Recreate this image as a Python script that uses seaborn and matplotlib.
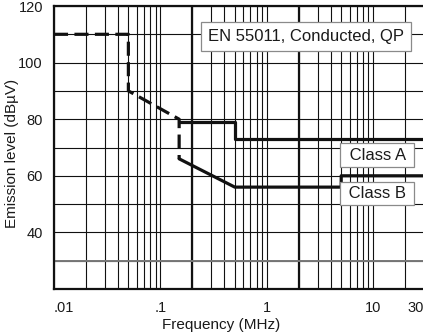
import matplotlib
matplotlib.use("Agg")
import matplotlib.pyplot as plt
import seaborn as sns
import pandas as pd
import numpy as np
from matplotlib.ticker import LogLocator, FixedLocator, NullFormatter

# ---- data ----
dashed_freq = [0.01, 0.05, 0.05, 0.15, 0.15]
dashed_level = [110, 110, 90, 80, 66]
classA_freq = [0.15, 0.5, 0.5, 30]
classA_level = [79, 79, 73, 73]
classB_freq = [0.15, 0.5, 5, 5, 30]
classB_level = [66, 56, 56, 60, 60]

x_ticks = [0.01, 0.1, 1, 10, 30]
x_ticklabels = [".01", ".1", "1", "10", "30"]
y_ticks = [40, 60, 80, 100, 120]
y_minor = [20, 30, 50, 70, 90, 110]

title_text = "EN 55011, Conducted, QP"
label_A = "Class A"
label_B = "Class B"

sns.set_theme(style="white")
plt.rcParams['font.family'] = ['Liberation Sans', 'DejaVu Sans']

W, H = 423, 335
fig = plt.figure(figsize=(W / 100, H / 100), dpi=100)
ax_l, ax_r, ax_t, ax_b = 54, 424, 6, 289
ax = fig.add_axes([ax_l / W, 1 - ax_b / H, (ax_r - ax_l) / W, (ax_b - ax_t) / H])

ax.set_xscale("log")
ax.set_xlim(0.01, 30)
ax.set_ylim(20, 120)

# grid
ax.xaxis.set_major_locator(FixedLocator(x_ticks))
ax.set_xticklabels(x_ticklabels)
ax.xaxis.set_minor_locator(LogLocator(base=10, subs=np.arange(2, 10)))
ax.xaxis.set_minor_formatter(NullFormatter())
ax.yaxis.set_major_locator(FixedLocator(y_ticks))
ax.yaxis.set_minor_locator(FixedLocator(y_minor))
ax.grid(True, which="both", color="#111111", lw=0.8)
ax.axvline(0.2, color="#111111", lw=1.6, zorder=1)
ax.axvline(2, color="#111111", lw=1.6, zorder=1)
ax.axhline(30, color="#777777", lw=1.4, zorder=1)
ax.set_axisbelow(True)

lw = 2.3
df_d = pd.DataFrame({"f": dashed_freq, "v": dashed_level})
df_a = pd.DataFrame({"f": classA_freq, "v": classA_level})
df_b = pd.DataFrame({"f": classB_freq, "v": classB_level})
sns.lineplot(data=df_d, x="f", y="v", ax=ax, sort=False, estimator=None,
             color="#111111", lw=lw, zorder=3)
ax.lines[-1].set_dashes([4.4, 2.0])
sns.lineplot(data=df_a, x="f", y="v", ax=ax, sort=False, estimator=None,
             color="#111111", lw=lw, zorder=3)
sns.lineplot(data=df_b, x="f", y="v", ax=ax, sort=False, estimator=None,
             color="#111111", lw=lw, zorder=3)

for s in ["left", "bottom", "top", "right"]:
    ax.spines[s].set_visible(True)
    ax.spines[s].set_color("#111111")
    ax.spines[s].set_linewidth(1.6)

ax.tick_params(axis="both", which="both", length=0, labelsize=10.5, colors="#1a1a1a")
ax.tick_params(axis="x", pad=9)
ax.tick_params(axis="y", pad=8)
xl = ax.get_xticklabels()
xl[0].set_horizontalalignment("left")
xl[-1].set_horizontalalignment("right")

ax.set_xlabel("Frequency (MHz)", fontsize=11, color="#1a1a1a")
ax.set_ylabel("Emission level (dBµV)", fontsize=11, color="#1a1a1a")
ax.xaxis.set_label_coords((221 - ax_l) / (ax_r - ax_l), (ax_b - 318) / (ax_b - ax_t))
ax.yaxis.set_label_coords((19 - ax_l) / (ax_r - ax_l), (ax_b - 153) / (ax_b - ax_t))

box = dict(boxstyle="square,pad=0.4", fc="white", ec="#8a8a8a", lw=0.9)
fig.text(306 / W, 1 - 36.5 / H, title_text, ha="center", va="center",
         fontsize=12, color="#1a1a1a", bbox=box, zorder=5)
box2 = dict(boxstyle="square,pad=0.25", fc="white", ec="#8a8a8a", lw=0.9)
fig.text(377 / W, 1 - 155 / H, " " + label_A + " ", ha="center", va="center",
         fontsize=12, color="#1a1a1a", bbox=box2, zorder=5)
fig.text(377 / W, 1 - 193.5 / H, " " + label_B + " ", ha="center", va="center",
         fontsize=12, color="#1a1a1a", bbox=box2, zorder=5)

fig.savefig("out.png", dpi=100)
